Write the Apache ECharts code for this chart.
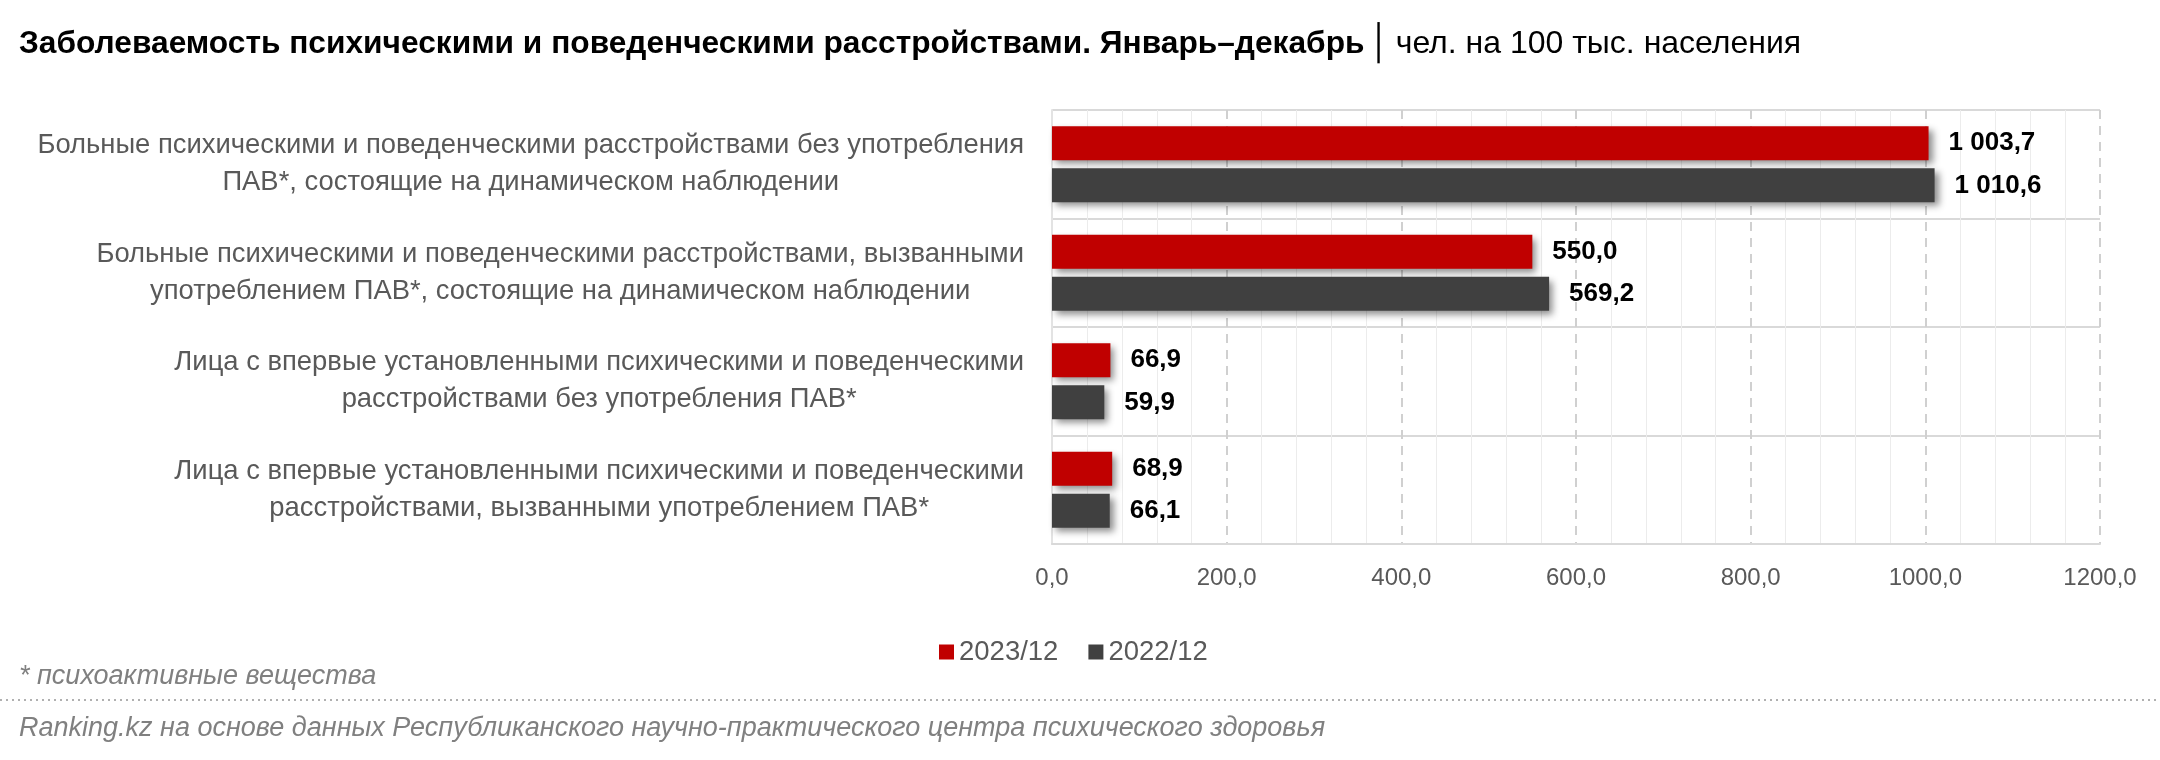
<!DOCTYPE html>
<html>
<head>
<meta charset="utf-8">
<script src="https://cdn.jsdelivr.net/npm/echarts@6/dist/echarts.min.js"></script>
<style>
  html, body { margin: 0; padding: 0; background: #fff; }
  #chart-dom-1 { width: 2160px; height: 760px; }
</style>
</head>
<body>
<div id="chart-dom-1"></div>
<script>
// data
const categories = [
  'Больные психическими и поведенческими расстройствами без употребления\nПАВ*, состоящие на динамическом наблюдении',
  'Больные психическими и поведенческими расстройствами, вызванными\nупотреблением ПАВ*, состоящие на динамическом наблюдении',
  'Лица с впервые установленными психическими и поведенческими\nрасстройствами без употребления ПАВ*',
  'Лица с впервые установленными психическими и поведенческими\nрасстройствами, вызванными употреблением ПАВ*'
]
const seriesNames = ['2023/12', '2022/12']
const values2023 = [1003.7, 550.0, 66.9, 68.9]
const values2022 = [1010.6, 569.2, 59.9, 66.1]
const axisMin = 0
const axisMax = 1200
const axisStep = 200

const FONT = 'Liberation Sans'
const RED = '#c00000'
const DARK = '#404040'

// 1 003,7 style numbers
function fmtValue(v) {
  const parts = v.toFixed(1).split('.')
  const intPart = parts[0].replace(/\B(?=(\d{3})+(?!\d))/g, ' ')
  return intPart + ',' + parts[1]
}

const chartInstance = echarts.init(document.getElementById('chart-dom-1'))

const barShadow = {
  shadowBlur: 7,
  shadowOffsetX: 4,
  shadowOffsetY: 4,
  shadowColor: 'rgba(0,0,0,0.45)'
}

const valueLabel = {
  show: true,
  position: 'right',
  distance: 20,
  fontFamily: FONT,
  fontSize: 26,
  fontWeight: 'bold',
  color: '#000',
  formatter: (p) => fmtValue(p.value)
}

const option = {
  backgroundColor: '#fff',
  animation: false,
  title: [
    {
      left: 14,
      top: 22,
      text: '{b|Заболеваемость психическими и поведенческими расстройствами. Январь–декабрь} {s|│} {r|чел. на 100 тыс. населения}',
      textStyle: {
        rich: {
          b: { fontFamily: FONT, fontSize: 31.7, fontWeight: 'bold', color: '#000' },
          s: { fontFamily: FONT, fontSize: 34, fontWeight: 'normal', color: '#000' },
          r: { fontFamily: FONT, fontSize: 32, fontWeight: 'normal', color: '#000' }
        }
      }
    },
    {
      left: 14,
      top: 658,
      text: '* психоактивные вещества',
      textStyle: { fontFamily: FONT, fontSize: 27, fontStyle: 'italic', fontWeight: 'normal', color: '#808080' }
    },
    {
      left: 14,
      top: 710,
      text: 'Ranking.kz на основе данных Республиканского научно-практического центра психического здоровья',
      textStyle: { fontFamily: FONT, fontSize: 27, fontStyle: 'italic', fontWeight: 'normal', color: '#808080' }
    }
  ],
  graphic: [
    {
      type: 'line',
      shape: { x1: 0, y1: 700, x2: 2160, y2: 700 },
      style: { stroke: '#b0b0b0', lineWidth: 2, lineDash: [2, 4] }
    }
  ],
  legend: {
    left: 934,
    top: 633,
    itemWidth: 15,
    itemHeight: 15,
    itemGap: 30,
    icon: 'rect',
    textStyle: { fontFamily: FONT, fontSize: 27.5, color: '#595959' },
    data: seriesNames
  },
  grid: {
    left: 1052,
    right: 60,
    top: 110,
    bottom: 216,
    containLabel: false
  },
  xAxis: {
    type: 'value',
    min: axisMin,
    max: axisMax,
    interval: axisStep,
    axisLine: { show: true, lineStyle: { color: '#d9d9d9', width: 2 } },
    axisTick: { show: false },
    axisLabel: {
      margin: 22,
      fontFamily: FONT,
      fontSize: 24,
      color: '#595959',
      formatter: (v) => v.toFixed(1).replace('.', ',')
    },
    splitLine: { show: true, lineStyle: { color: '#d0d0d0', width: 2, type: [9, 7] } },
    minorTick: { show: false, splitNumber: 5 },
    minorSplitLine: { show: true, lineStyle: { color: '#ececec', width: 1 } }
  },
  yAxis: {
    type: 'category',
    inverse: true,
    data: categories,
    axisLine: { show: true, lineStyle: { color: '#e3e3e3', width: 2 } },
    axisTick: { show: false },
    splitLine: { show: true, lineStyle: { color: '#d9d9d9', width: 2 } },
    axisLabel: {
      margin: 28,
      formatter: (v) => v.split('\n').map((l) => '{c|' + l + '}').join('\n'),
      rich: {
        c: { align: 'center', fontFamily: FONT, fontSize: 27.4, color: '#595959', lineHeight: 37 }
      }
    }
  },
  series: [
    {
      name: seriesNames[0],
      type: 'bar',
      data: values2023,
      barWidth: 34,
      barGap: '24%',
      itemStyle: Object.assign({ color: RED }, barShadow),
      label: valueLabel
    },
    {
      name: seriesNames[1],
      type: 'bar',
      data: values2022,
      barWidth: 34,
      barGap: '24%',
      itemStyle: Object.assign({ color: DARK }, barShadow),
      label: valueLabel
    }
  ]
}

chartInstance.setOption(option)
</script>
</body>
</html>
